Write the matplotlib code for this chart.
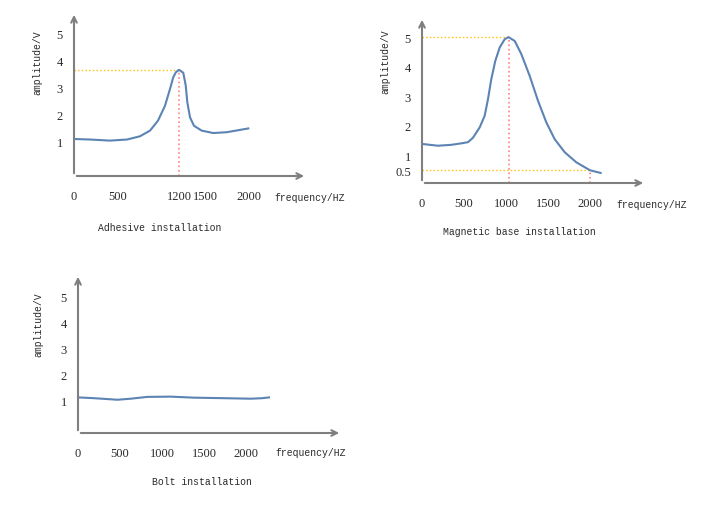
import matplotlib
matplotlib.use("Agg")
from matplotlib import pyplot as plt

# adhesive installation
adh_freq = [0, 183, 411, 606, 754, 869, 960, 1040, 1097, 1135, 1165, 1200, 1249, 1277, 1295, 1326, 1371, 1459, 1592, 1745, 1992]
adh_amp = [1.11, 1.09, 1.05, 1.09, 1.21, 1.42, 1.79, 2.34, 2.96, 3.40, 3.58, 3.67, 3.56, 3.09, 2.47, 1.91, 1.60, 1.42, 1.33, 1.36, 1.50]
adh_peak = (1200, 3.67)
adh_xticks = [0, 500, 1200, 1500, 2000]

# magnetic base installation
mag_freq = [0, 190, 349, 468, 548, 607, 687, 746, 786, 825, 873, 925, 985, 1030, 1104, 1182, 1282, 1381, 1480, 1580, 1699, 1837, 2000, 2127]
mag_amp = [1.39, 1.33, 1.36, 1.41, 1.45, 1.60, 1.95, 2.34, 2.91, 3.58, 4.20, 4.65, 4.93, 5.00, 4.87, 4.43, 3.69, 2.85, 2.12, 1.55, 1.11, 0.77, 0.50, 0.41]
mag_peak = (1030, 5.0)
mag_low = (2000, 0.5)
mag_xticks = [0, 500, 1000, 1500, 2000]
mag_yticks = [0.5, 1, 2, 3, 4, 5]

# bolt installation
bolt_freq = [0, 190, 470, 627, 825, 1103, 1381, 1738, 2056, 2194, 2274]
bolt_amp = [1.10, 1.07, 1.01, 1.05, 1.12, 1.13, 1.09, 1.07, 1.05, 1.07, 1.10]
bolt_xticks = [0, 500, 1000, 1500, 2000]

amp_yticks = [1, 2, 3, 4, 5]

W, H = 705, 506
axis_col = "#7f7f7f"
line_col = "#5b84b5"
txt_col = "#2a2a2a"
mono = "Liberation Mono"
serif = "Liberation Serif"

fig = plt.figure(figsize=(W / 100, H / 100), dpi=100)


def panel(box, xlim, ylim, xticks, yticks, title, ylab_pos, freq_pos, title_pos):
    l, t, r, b = box
    ax = fig.add_axes([l / W, 1 - b / H, (r - l) / W, (b - t) / H])
    ax.set_xlim(xlim)
    ax.set_ylim(ylim)
    for s in ax.spines.values():
        s.set_visible(False)
    ax.annotate("", xy=(1, 0), xytext=(0, 0), xycoords="axes fraction",
                arrowprops=dict(arrowstyle="->", color=axis_col, lw=1.5, mutation_scale=10))
    ax.annotate("", xy=(0, 1), xytext=(0, 0), xycoords="axes fraction",
                arrowprops=dict(arrowstyle="->", color=axis_col, lw=1.5, mutation_scale=10))
    ax.set_xticks(xticks)
    ax.set_xticklabels([str(v) for v in xticks], fontfamily=serif, fontsize=9, color=txt_col)
    ax.set_yticks(yticks)
    ax.set_yticklabels([("%g" % v) for v in yticks], fontfamily=serif, fontsize=9, color=txt_col)
    ax.tick_params(axis="x", length=0, pad=10)
    ax.tick_params(axis="y", length=0, pad=8)
    ax.text(ylab_pos[0], ylab_pos[1], "amplitude/V", transform=ax.transAxes, rotation=90,
            ha="center", va="center", fontfamily=mono, fontsize=7, color=txt_col)
    ax.text(freq_pos[0], freq_pos[1], "frequency/HZ", transform=ax.transAxes,
            ha="center", va="center", fontfamily=mono, fontsize=7, color=txt_col)
    ax.text(title_pos[0], title_pos[1], title, transform=ax.transAxes,
            ha="center", va="center", fontfamily=mono, fontsize=7, color=txt_col)
    return ax


# Adhesive
ax1 = panel((74, 13, 307, 177), (0, 2663), (-0.26, 5.81), adh_xticks, amp_yticks,
            "Adhesive installation", (-0.159, 0.70), (1.013, -0.128), (0.369, -0.311))
ax1.plot([0, adh_peak[0]], [adh_peak[1], adh_peak[1]], color="#ffc000", ls=":", lw=1)
ax1.plot([adh_peak[0], adh_peak[0]], [ax1.get_ylim()[0], adh_peak[1]], color="#ff8080", ls=":", lw=1.2)
ax1.plot(adh_freq, adh_amp, color=line_col, lw=1.5)

# Magnetic base
ax2 = panel((422, 18, 646, 184), (0, 2667), (0.07, 5.68), mag_xticks, mag_yticks,
            "Magnetic base installation", (-0.165, 0.735), (1.027, -0.127), (0.433, -0.289))
for fx, ay in (mag_peak, mag_low):
    ax2.plot([0, fx], [ay, ay], color="#ffc000", ls=":", lw=1)
    ax2.plot([fx, fx], [ax2.get_ylim()[0], ay], color="#ff8080", ls=":", lw=1.2)
ax2.plot(mag_freq, mag_amp, color=line_col, lw=1.5)

# Bolt
ax3 = panel((78, 275, 342, 434), (0, 3143), (-0.27, 5.85), bolt_xticks, amp_yticks,
            "Bolt installation", (-0.15, 0.685), (0.883, -0.12), (0.47, -0.302))
ax3.plot(bolt_freq, bolt_amp, color=line_col, lw=1.5)

plt.savefig("out.png", dpi=100)
plt.close()
